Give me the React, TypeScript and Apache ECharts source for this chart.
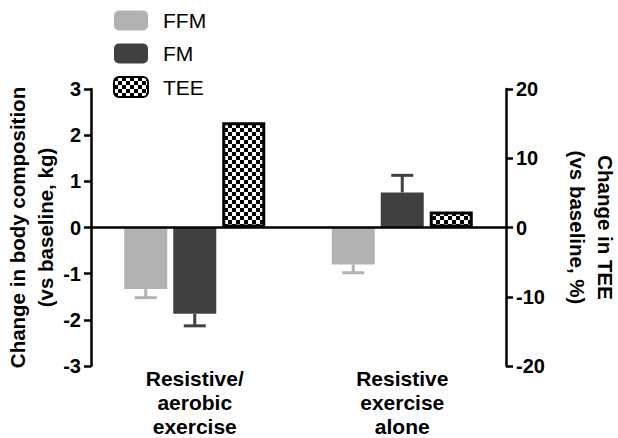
import { useEffect, useRef } from "react";
import * as echarts from "echarts";

const categories = ["Resistive/\naerobic\nexercise", "Resistive\nexercise\nalone"];
const seriesNames = ["FFM", "FM", "TEE"];
const ffmValues = [-1.33, -0.8];
const ffmErrors = [0.19, 0.18];
const fmValues = [-1.87, 0.76];
const fmErrors = [0.26, 0.37];
const teeValues = [15.2, 2.3];
const leftTicks = [-3, 3, 1];
const rightTicks = [-20, 20, 10];

const FONT = "'Liberation Sans', Arial, Helvetica, sans-serif";
const FFM_COLOR = "#b2b2b2";
const FM_COLOR = "#404040";
const BAR_WIDTH = 43;
const BAR_GAP = 6;

// petit damier noir/blanc pour TEE
function makeChecker() {
  const c = document.createElement("canvas");
  c.width = 8;
  c.height = 8;
  const ctx = c.getContext("2d")!;
  ctx.fillStyle = "#ffffff";
  ctx.fillRect(0, 0, 8, 8);
  ctx.fillStyle = "#000000";
  ctx.fillRect(0, 0, 4, 4);
  ctx.fillRect(4, 4, 4, 4);
  return c;
}

function errorSeries(values: number[], errors: number[], slot: number, color: string) {
  return {
    type: "custom",
    yAxisIndex: 0,
    silent: true,
    z: 1,
    data: values.map((v, i) => [i, v, errors[i]]),
    renderItem: (params: any, api: any) => {
      const cat = api.value(0);
      const val = api.value(1);
      const err = api.value(2);
      const sign = val < 0 ? -1 : 1;
      const start = api.coord([cat, val]);
      const end = api.coord([cat, val + sign * err]);
      const x = start[0] + (BAR_WIDTH + BAR_GAP) * (slot - 1);
      const half = 11;
      const style = { stroke: color, lineWidth: 3 };
      return {
        type: "group",
        children: [
          { type: "line", shape: { x1: x, y1: start[1], x2: x, y2: end[1] }, style },
          { type: "line", shape: { x1: x - half, y1: end[1], x2: x + half, y2: end[1] }, style },
        ],
      };
    },
  };
}

export default function App() {
  const chartRef = useRef<HTMLDivElement>(null);

  useEffect(() => {
    if (!chartRef.current) return;
    const chart = echarts.init(chartRef.current, null, { renderer: "svg" });
    const checker = makeChecker();
    const teePattern: any = { image: checker, repeat: "repeat", imageWidth: 8, imageHeight: 8 };

    const axisCommon = {
      type: "value" as const,
      splitLine: { show: false },
      axisLine: { show: true, lineStyle: { color: "#000", width: 2.5 } },
      axisTick: { show: true, length: 7, lineStyle: { color: "#000", width: 2.5 } },
      axisLabel: { color: "#000", fontFamily: FONT, fontWeight: "bold" as const, fontSize: 20, margin: 10 },
      nameLocation: "middle" as const,
      nameMoveOverlap: false,
      nameTextStyle: { color: "#000", fontFamily: FONT, fontWeight: "bold" as const, fontSize: 20.5, lineHeight: 28 },
    };

    const option: any = {
      animation: false,
      grid: { left: 91, right: 112, top: 89, bottom: 72, containLabel: false, outerBoundsMode: "none" },
      legend: {
        orient: "vertical",
        left: 108,
        top: 5,
        itemWidth: 34,
        itemHeight: 20,
        itemGap: 12,
        data: seriesNames,
        textStyle: { color: "#000", fontFamily: FONT, fontSize: 21, padding: [0, 0, 0, 10] },
      },
      xAxis: {
        type: "category",
        data: categories,
        axisLine: { show: false },
        axisTick: { show: false },
        axisLabel: {
          color: "#000",
          fontFamily: FONT,
          fontWeight: "bold",
          fontSize: 21,
          lineHeight: 24,
          margin: 0,
        },
      },
      yAxis: [
        {
          ...axisCommon,
          min: leftTicks[0],
          max: leftTicks[1],
          interval: leftTicks[2],
          name: "Change in body composition\n(vs baseline, kg)",
          nameRotate: 90,
          nameGap: 32,
        },
        {
          ...axisCommon,
          position: "right",
          min: rightTicks[0],
          max: rightTicks[1],
          interval: rightTicks[2],
          name: "Change in TEE\n(vs baseline, %)",
          nameRotate: -90,
          nameGap: 57,
        },
      ],
      series: [
        {
          name: "FFM",
          type: "bar",
          yAxisIndex: 0,
          barWidth: BAR_WIDTH,
          barGap: (BAR_GAP / BAR_WIDTH) * 100 + "%",
          itemStyle: { color: FFM_COLOR },
          data: ffmValues,
          z: 2,
          markLine: {
            silent: true,
            symbol: "none",
            label: { show: false },
            lineStyle: { color: "#000", width: 2.5, type: "solid" },
            data: [{ yAxis: 0 }],
          },
        },
        {
          name: "FM",
          type: "bar",
          yAxisIndex: 0,
          barWidth: BAR_WIDTH,
          itemStyle: { color: FM_COLOR },
          data: fmValues,
          z: 2,
        },
        {
          name: "TEE",
          type: "bar",
          yAxisIndex: 1,
          barWidth: BAR_WIDTH,
          itemStyle: { color: teePattern, borderColor: "#000", borderWidth: 3 },
          data: teeValues,
          z: 2,
        },
        errorSeries(ffmValues, ffmErrors, 0, FFM_COLOR),
        errorSeries(fmValues, fmErrors, 1, FM_COLOR),
      ],
    };

    chart.setOption(option);
    return () => chart.dispose();
  }, []);

  return (
    <div
      ref={chartRef}
      style={{ position: "fixed", left: 0, top: 0, width: 618, height: 438, background: "#fff" }}
    />
  );
}
